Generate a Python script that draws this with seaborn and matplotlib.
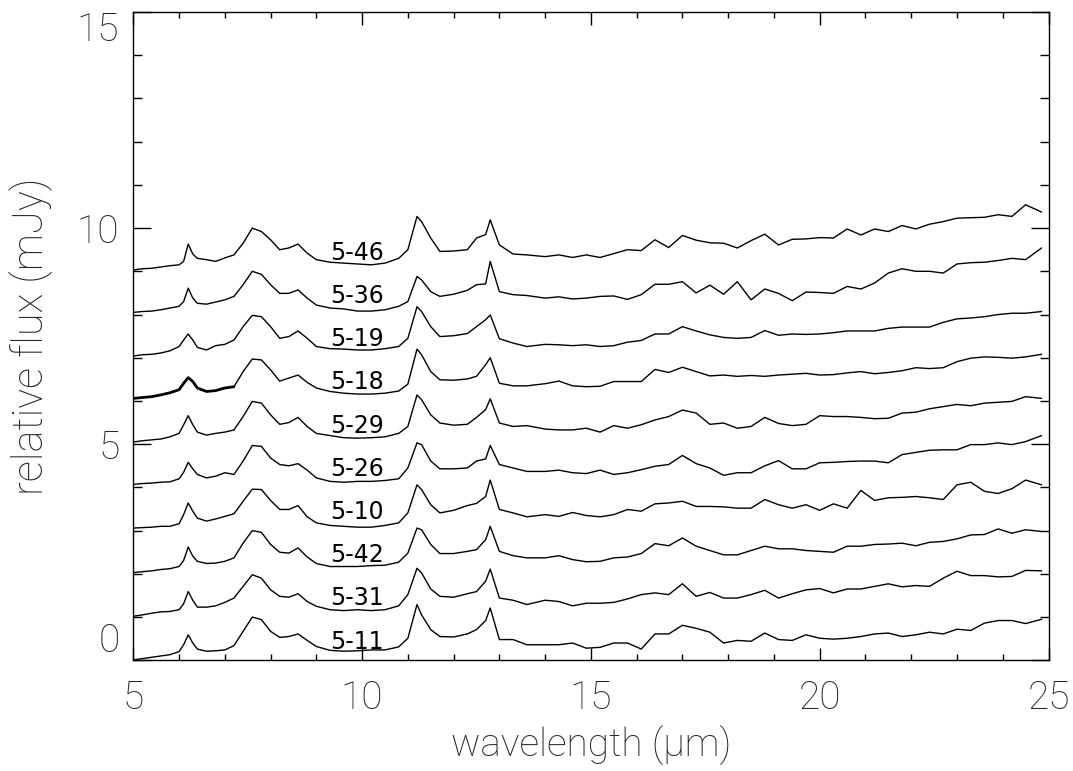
import numpy as np
import pandas as pd
import matplotlib
matplotlib.use("Agg")
import matplotlib.pyplot as plt
import seaborn as sns
from matplotlib.ticker import MultipleLocator

# ---------------- data ----------------
wave_short = [5.0, 5.2, 5.4, 5.6, 5.8, 6.0, 6.1, 6.2, 6.3, 6.4, 6.6, 6.8, 7.0, 7.2, 7.4,
              7.6, 7.8, 8.0, 8.2, 8.4, 8.6, 8.8, 9.0, 9.3, 9.6, 9.9, 10.2, 10.5, 10.8, 11.0,
              11.2, 11.3, 11.5, 11.7, 12.0, 12.3, 12.5, 12.7, 12.8, 13.0, 13.3, 13.6, 14.0]
wave_long = [14.3, 14.6, 14.9, 15.2, 15.5, 15.8, 16.1, 16.4, 16.7, 17.0, 17.3, 17.6, 17.9,
             18.2, 18.5, 18.8, 19.1, 19.4, 19.7, 20.0, 20.3, 20.6, 20.9, 21.2, 21.5, 21.8,
             22.1, 22.4, 22.7, 23.0, 23.3, 23.6, 23.9, 24.2, 24.5, 24.85]

names = ["5-11", "5-31", "5-42", "5-10", "5-26", "5-29", "5-18", "5-19", "5-36", "5-46"]
offsets = [0, 1, 2, 3, 4, 5, 6, 7, 8, 9]

f_5_11 = [0.01, 0.04, 0.07, 0.10, 0.13, 0.20, 0.36, 0.59, 0.40, 0.26, 0.21, 0.22, 0.24, 0.34, 0.67,
          1.00, 0.94, 0.67, 0.53, 0.55, 0.61, 0.46, 0.32, 0.23, 0.21, 0.22, 0.24, 0.24, 0.31, 0.51,
          1.29, 1.05, 0.71, 0.55, 0.54, 0.61, 0.71, 0.92, 1.21, 0.48, 0.48, 0.36, 0.36,
          0.36, 0.40, 0.28, 0.30, 0.40, 0.40, 0.26, 0.61, 0.61, 0.81, 0.74, 0.65, 0.40, 0.46, 0.44,
          0.63, 0.48, 0.46, 0.59, 0.51, 0.49, 0.51, 0.55, 0.61, 0.63, 0.55, 0.59, 0.65, 0.61, 0.72,
          0.69, 0.86, 0.92, 0.92, 0.85, 0.95]
f_5_31 = [0.02, 0.05, 0.09, 0.12, 0.13, 0.17, 0.31, 0.59, 0.39, 0.23, 0.23, 0.26, 0.34, 0.44, 0.71,
          0.98, 0.90, 0.63, 0.48, 0.46, 0.54, 0.36, 0.25, 0.17, 0.15, 0.17, 0.15, 0.17, 0.26, 0.52,
          1.13, 1.02, 0.65, 0.48, 0.46, 0.54, 0.59, 0.83, 1.11, 0.44, 0.39, 0.29, 0.39,
          0.36, 0.26, 0.32, 0.32, 0.34, 0.42, 0.52, 0.56, 0.52, 0.77, 0.48, 0.57, 0.44, 0.44, 0.52,
          0.62, 0.44, 0.54, 0.63, 0.66, 0.56, 0.65, 0.65, 0.71, 0.77, 0.70, 0.73, 0.71, 0.90, 1.06,
          0.96, 0.96, 0.93, 0.94, 1.08, 1.07]
f_5_42 = [0.03, 0.05, 0.07, 0.10, 0.12, 0.17, 0.31, 0.62, 0.41, 0.29, 0.24, 0.25, 0.29, 0.37, 0.71,
          1.00, 0.96, 0.68, 0.50, 0.48, 0.60, 0.39, 0.24, 0.17, 0.17, 0.17, 0.19, 0.20, 0.27, 0.48,
          1.06, 1.02, 0.68, 0.47, 0.47, 0.52, 0.56, 0.79, 1.10, 0.52, 0.42, 0.37, 0.37,
          0.42, 0.33, 0.28, 0.29, 0.37, 0.39, 0.47, 0.70, 0.65, 0.83, 0.64, 0.54, 0.44, 0.44, 0.54,
          0.64, 0.58, 0.58, 0.54, 0.52, 0.50, 0.64, 0.64, 0.68, 0.69, 0.71, 0.65, 0.73, 0.75, 0.81,
          0.90, 0.91, 1.04, 0.94, 1.02, 0.98]
f_5_10 = [0.06, 0.07, 0.08, 0.10, 0.10, 0.16, 0.37, 0.64, 0.45, 0.29, 0.22, 0.27, 0.33, 0.39, 0.68,
          0.96, 0.95, 0.70, 0.49, 0.49, 0.58, 0.32, 0.18, 0.12, 0.10, 0.08, 0.08, 0.12, 0.18, 0.41,
          1.06, 0.95, 0.60, 0.41, 0.47, 0.58, 0.63, 0.79, 1.17, 0.49, 0.41, 0.32, 0.37,
          0.33, 0.42, 0.35, 0.32, 0.37, 0.49, 0.45, 0.62, 0.64, 0.68, 0.56, 0.56, 0.55, 0.52, 0.52,
          0.72, 0.60, 0.52, 0.60, 0.47, 0.62, 0.52, 0.93, 0.70, 0.76, 0.77, 0.79, 0.76, 0.72, 1.06,
          1.12, 0.91, 0.86, 0.97, 1.17, 1.06]
f_5_26 = [0.07, 0.09, 0.10, 0.12, 0.13, 0.20, 0.35, 0.58, 0.43, 0.30, 0.22, 0.26, 0.34, 0.30, 0.61,
          0.97, 0.95, 0.68, 0.53, 0.50, 0.55, 0.40, 0.22, 0.14, 0.12, 0.14, 0.14, 0.16, 0.20, 0.45,
          1.03, 0.99, 0.61, 0.43, 0.43, 0.45, 0.61, 0.66, 0.97, 0.53, 0.45, 0.37, 0.37,
          0.40, 0.34, 0.32, 0.40, 0.30, 0.34, 0.41, 0.49, 0.53, 0.74, 0.55, 0.45, 0.28, 0.34, 0.34,
          0.50, 0.62, 0.43, 0.43, 0.57, 0.58, 0.60, 0.61, 0.61, 0.57, 0.76, 0.81, 0.86, 0.87, 0.87,
          0.99, 0.99, 1.03, 0.99, 1.06, 1.20]
f_5_29 = [0.05, 0.08, 0.10, 0.12, 0.17, 0.25, 0.45, 0.66, 0.45, 0.28, 0.21, 0.25, 0.28, 0.33, 0.64,
          0.99, 0.95, 0.68, 0.46, 0.50, 0.62, 0.41, 0.25, 0.20, 0.15, 0.14, 0.15, 0.17, 0.25, 0.41,
          1.14, 1.03, 0.68, 0.49, 0.44, 0.46, 0.62, 0.80, 1.05, 0.49, 0.41, 0.43, 0.35,
          0.33, 0.33, 0.37, 0.28, 0.43, 0.37, 0.45, 0.56, 0.64, 0.79, 0.72, 0.46, 0.49, 0.37, 0.41,
          0.62, 0.48, 0.43, 0.46, 0.66, 0.64, 0.64, 0.62, 0.59, 0.60, 0.72, 0.74, 0.82, 0.87, 0.92,
          0.89, 0.95, 0.97, 0.99, 1.10, 1.06]
f_5_18 = [0.06, 0.08, 0.10, 0.14, 0.19, 0.26, 0.41, 0.54, 0.45, 0.30, 0.22, 0.24, 0.30, 0.33, 0.68,
          0.97, 0.95, 0.72, 0.46, 0.53, 0.60, 0.43, 0.30, 0.22, 0.18, 0.16, 0.16, 0.18, 0.23, 0.39,
          1.20, 1.07, 0.68, 0.49, 0.48, 0.51, 0.57, 0.84, 1.00, 0.41, 0.35, 0.35, 0.40,
          0.46, 0.35, 0.33, 0.34, 0.45, 0.45, 0.45, 0.73, 0.66, 0.78, 0.68, 0.58, 0.60, 0.57, 0.59,
          0.57, 0.60, 0.62, 0.64, 0.60, 0.61, 0.65, 0.68, 0.63, 0.66, 0.70, 0.77, 0.75, 0.77, 0.91,
          0.99, 1.02, 1.01, 0.99, 1.02, 1.08]
f_5_19 = [0.04, 0.07, 0.08, 0.11, 0.16, 0.26, 0.41, 0.55, 0.41, 0.24, 0.18, 0.28, 0.31, 0.41, 0.72,
          0.98, 0.95, 0.72, 0.45, 0.49, 0.62, 0.45, 0.26, 0.21, 0.20, 0.18, 0.18, 0.21, 0.26, 0.45,
          1.18, 1.07, 0.72, 0.49, 0.51, 0.56, 0.72, 0.88, 0.99, 0.44, 0.34, 0.26, 0.31,
          0.30, 0.28, 0.30, 0.26, 0.28, 0.36, 0.40, 0.55, 0.55, 0.72, 0.62, 0.53, 0.47, 0.45, 0.47,
          0.63, 0.52, 0.55, 0.54, 0.55, 0.58, 0.62, 0.62, 0.62, 0.68, 0.71, 0.71, 0.71, 0.82, 0.90,
          0.92, 0.95, 1.00, 1.03, 1.03, 1.07]
f_5_36 = [0.05, 0.07, 0.08, 0.11, 0.15, 0.19, 0.30, 0.61, 0.38, 0.26, 0.24, 0.29, 0.34, 0.42, 0.69,
          1.00, 0.93, 0.69, 0.49, 0.49, 0.57, 0.38, 0.22, 0.15, 0.13, 0.08, 0.08, 0.11, 0.19, 0.30,
          0.88, 0.80, 0.53, 0.42, 0.47, 0.56, 0.69, 0.71, 1.23, 0.53, 0.46, 0.44, 0.38,
          0.41, 0.36, 0.38, 0.42, 0.43, 0.35, 0.46, 0.70, 0.70, 0.76, 0.50, 0.68, 0.47, 0.76, 0.34,
          0.59, 0.49, 0.32, 0.52, 0.51, 0.49, 0.65, 0.59, 0.73, 0.96, 1.06, 1.00, 1.00, 0.96, 1.17,
          1.20, 1.21, 1.25, 1.30, 1.27, 1.54]
f_5_46 = [0.03, 0.06, 0.07, 0.10, 0.13, 0.15, 0.23, 0.63, 0.40, 0.30, 0.27, 0.23, 0.31, 0.38, 0.65,
          1.00, 0.92, 0.73, 0.50, 0.54, 0.63, 0.42, 0.27, 0.21, 0.19, 0.17, 0.15, 0.19, 0.30, 0.50,
          1.27, 1.15, 0.77, 0.46, 0.47, 0.50, 0.77, 0.85, 1.19, 0.61, 0.40, 0.38, 0.34,
          0.38, 0.32, 0.38, 0.32, 0.41, 0.50, 0.48, 0.73, 0.55, 0.83, 0.72, 0.66, 0.65, 0.54, 0.71,
          0.86, 0.61, 0.74, 0.75, 0.78, 0.77, 0.98, 0.84, 0.98, 0.92, 1.06, 0.98, 1.09, 1.15, 1.23,
          1.24, 1.25, 1.31, 1.27, 1.54, 1.37]

spectra = [f_5_11, f_5_31, f_5_42, f_5_10, f_5_26, f_5_29, f_5_18, f_5_19, f_5_36, f_5_46]

# ---------------- style ----------------
sns.set_style("ticks")
plt.rcParams["font.family"] = ["Roboto", "DejaVu Sans"]
plt.rcParams["axes.linewidth"] = 1.0

wave = np.array(wave_short + wave_long)

fig = plt.figure(figsize=(10.73, 7.71), dpi=100)
ax = fig.add_axes([0.12423, 0.14358, 0.85294, 0.84086])

for name, flux, off in zip(names, spectra, offsets):
    df = pd.DataFrame({"wavelength": wave, "flux": np.array(flux) + off})
    sns.lineplot(data=df, x="wavelength", y="flux", color="black", linewidth=1.0,
                 estimator=None, sort=False, ax=ax)
    if name == "5-18":
        seg = df[df["wavelength"] <= 7.2]
        sns.lineplot(data=seg, x="wavelength", y="flux", color="black", linewidth=2.0,
                     estimator=None, sort=False, ax=ax)
    ax.text(9.3, off + 0.27, name, fontsize=17, family="DejaVu Sans",
            ha="left", va="baseline", color="black")

ax.set_xlim(5, 25)
ax.set_ylim(0, 15)
ax.xaxis.set_major_locator(MultipleLocator(5))
ax.xaxis.set_minor_locator(MultipleLocator(1))
ax.yaxis.set_major_locator(MultipleLocator(5))
ax.yaxis.set_minor_locator(MultipleLocator(1))

ax.tick_params(axis="both", which="both", direction="in", top=True, right=True,
               color="black", width=1.0)
ax.tick_params(axis="x", which="major", length=9, pad=14)
ax.tick_params(axis="x", which="minor", length=4.5)
ax.tick_params(axis="y", which="major", length=13, pad=10)
ax.tick_params(axis="y", which="minor", length=6.5)

for lab in ax.get_xticklabels() + ax.get_yticklabels():
    lab.set_fontsize(28)
    lab.set_fontweight("light")

# keep the end labels of the y axis inside the figure, as in the reference
fig.canvas.draw()
for tick in ax.yaxis.get_major_ticks():
    val = tick.get_loc()
    if abs(val - 15) < 1e-6:
        tick.label1.set_verticalalignment("top")
    elif abs(val) < 1e-6:
        tick.label1.set_verticalalignment("bottom")

ax.set_xlabel("wavelength (μm)", fontsize=28, fontweight="light", va="center")
ax.set_ylabel("relative flux (mJy)", fontsize=30, fontweight="light")
ax.xaxis.set_label_coords(0.5, -0.131)
ax.yaxis.set_label_coords(-0.088, 0.5)

for sp in ax.spines.values():
    sp.set_color("black")
    sp.set_linewidth(1.0)

fig.savefig("out.png", dpi=100)
